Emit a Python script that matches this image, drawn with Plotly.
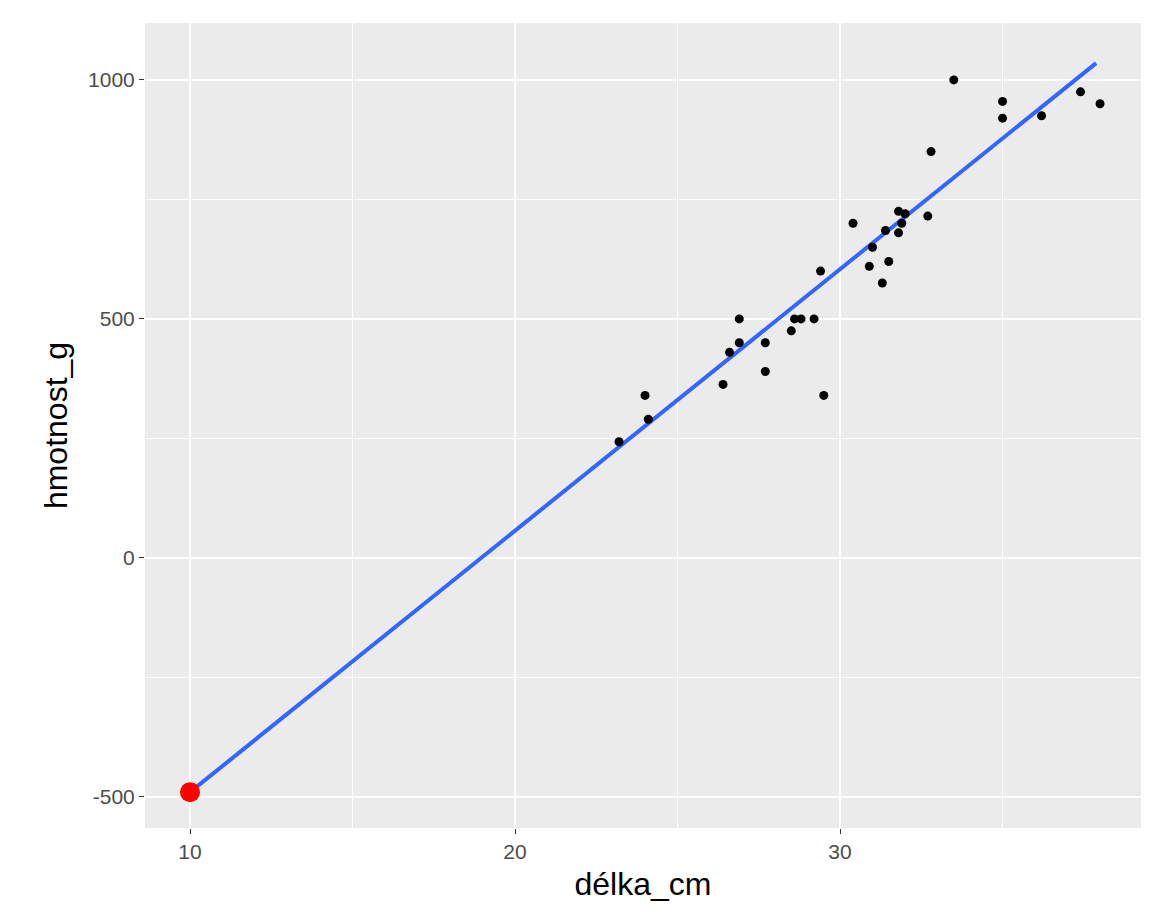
import plotly.graph_objects as go

delka_cm = [23.2,24.0,24.1,26.4,26.6,26.9,26.9,27.7,27.7,28.5,28.6,28.8,29.2,29.4,29.5,30.4,30.9,31.0,31.3,31.4,31.5,31.8,31.8,31.9,32.0,32.7,32.8,33.5,35.0,35.0,36.2,37.4,38.0]
hmotnost_g = [243,340,290,363,430,500,450,390,450,475,500,500,500,600,340,700,610,650,575,685,620,725,680,700,720,715,850,1000,955,920,925,975,950]
line_x = [10, 37.88]
line_y = [-490, 1035]
pred_x = [10]
pred_y = [-490]
x_ticks = [10, 20, 30]
y_ticks = [-500, 0, 500, 1000]
y_ticktext = ["-500", "0", "500", "1000"]

fig = go.Figure()
fig.add_trace(go.Scatter(x=line_x, y=line_y, mode="lines", line=dict(color="#3366FF", width=4), showlegend=False))
fig.add_trace(go.Scatter(x=delka_cm, y=hmotnost_g, mode="markers", marker=dict(color="black", size=9), showlegend=False))
fig.add_trace(go.Scatter(x=pred_x, y=pred_y, mode="markers", marker=dict(color="red", size=20), showlegend=False))

ax = dict(showgrid=True, gridcolor="white", gridwidth=2, zeroline=False, ticks="outside", ticklen=5,
          tickcolor="#333", automargin=False,
          tickfont=dict(size=21, color="#4d4d4d", family="Liberation Sans"))
fig.update_layout(
    width=1152, height=922, paper_bgcolor="white", plot_bgcolor="#EBEBEB",
    margin=dict(l=137, r=19, t=15, b=102),
    font=dict(family="Liberation Sans", size=27, color="black"),
    xaxis=dict(ax, range=[8.615, 39.26], tickvals=x_ticks, title=dict(text="délka_cm", standoff=10),
               minor=dict(showgrid=True, gridcolor="white", gridwidth=1, tickvals=[15, 25, 35])),
    yaxis=dict(ax, range=[-565, 1119], tickvals=y_ticks, ticktext=y_ticktext,
               title=dict(text="hmotnost_g", standoff=10),
               minor=dict(showgrid=True, gridcolor="white", gridwidth=1, tickvals=[-250, 250, 750])),
)
fig.write_html("out.html")
